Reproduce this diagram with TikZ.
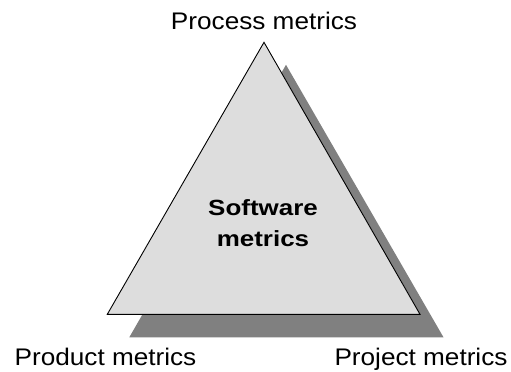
\documentclass[tikz,border=0pt]{standalone}
\usepackage{fontspec}
\setmainfont{Liberation Sans}
\definecolor{trifill}{HTML}{DDDDDD}
\definecolor{shadowfill}{HTML}{808080}
\tikzset{
  lbl/.style={inner sep=0pt, anchor=base, font=\fontsize{24bp}{28bp}\selectfont},
  boldlbl/.style={inner sep=0pt, anchor=base, font=\fontsize{22bp}{26bp}\selectfont\bfseries},
}
\newcommand{\wide}[1]{\scalebox{1.09}[1]{#1}}
\newcommand{\wideb}[1]{\scalebox{1.18}[1]{#1}}
\begin{document}
\begin{tikzpicture}[x=1bp,y=1bp]
\useasboundingbox (0,0) rectangle (511,371);
% corners
\coordinate (A) at (264,328.7);
\coordinate (B) at (107.3,56.7);
\coordinate (C) at (420,56.7);
% shadow
\fill[shadowfill] ([shift={(22,-22.5)}]A) -- ([shift={(22,-23)}]B) -- ([shift={(23.5,-23)}]C) -- cycle;
% triangle
\draw[fill=trifill, line width=0.9bp, line join=miter] (A) -- (B) -- (C) -- cycle;
% labels
\node[lbl] (process) at (264,342) {\wide{Process metrics}};
\node[lbl] (product) at (105.5,6) {\wide{Product metrics}};
\node[lbl] (project) at (421,6) {\wide{Project metrics}};
\node[boldlbl] (sw1) at (263,156) {\wideb{Software}};
\node[boldlbl] (sw2) at (263,124.5) {\wideb{metrics}};
\end{tikzpicture}
\end{document}
